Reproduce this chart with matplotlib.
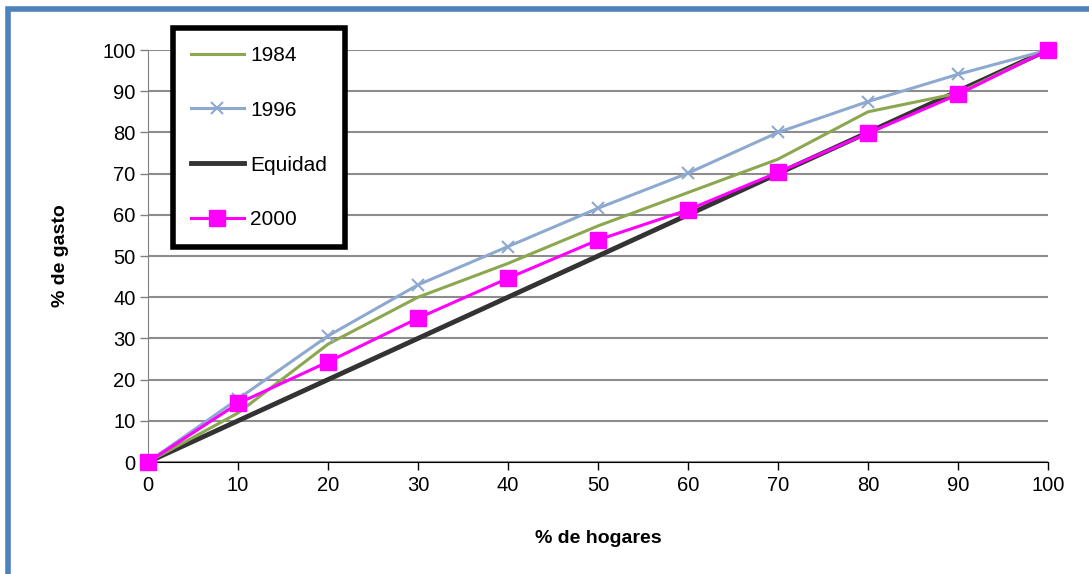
import matplotlib
matplotlib.use("Agg")
import matplotlib.pyplot as plt
from matplotlib.patches import Rectangle

plt.rcParams["font.family"] = ["Liberation Sans", "DejaVu Sans"]

# Curvas de concentración del gasto por deciles de hogares
hogares = [0, 10, 20, 30, 40, 50, 60, 70, 80, 90, 100]
gasto_1984 = [0, 11.9, 28.6, 40.0, 48.2, 57.3, 65.4, 73.5, 85.0, 89.5, 100]
gasto_1996 = [0, 15.3, 30.6, 43.0, 52.3, 61.6, 70.1, 80.0, 87.5, 94.1, 100]
equidad = [0, 10, 20, 30, 40, 50, 60, 70, 80, 90, 100]
gasto_2000 = [0, 14.2, 24.3, 34.9, 44.6, 53.9, 61.2, 70.3, 79.8, 89.2, 100]

ticks = list(range(0, 101, 10))

fig = plt.figure(figsize=(10.89, 5.74), dpi=100)
ax = fig.add_axes([148 / 1089, 1 - 462 / 574, 900 / 1089, 412 / 574])

ax.plot(hogares, gasto_1984, color="#8BA750", lw=2.2, label="1984", zorder=3)
ax.plot(hogares, gasto_1996, color="#8EA9D0", lw=2.2, marker="x", ms=9,
        mew=1.5, label="1996", zorder=3)
ax.plot(hogares, equidad, color="#333333", lw=3.5, label="Equidad", zorder=2)
ax.plot(hogares, gasto_2000, color="#FF00FF", lw=2.2, marker="s", ms=11,
        label="2000", zorder=4, clip_on=False)

ax.set_xlim(0, 100)
ax.set_ylim(0, 100)
ax.set_xticks(ticks)
ax.set_yticks(ticks)
ax.tick_params(labelsize=14.5, length=6, width=1)
ax.tick_params(axis="x", pad=4)
ax.tick_params(axis="y", pad=3, colors="#808080", labelcolor="black")
ax.yaxis.grid(True, color="#8c8c8c", lw=1.5)
ax.set_axisbelow(True)

for side in ("top", "right"):
    ax.spines[side].set_visible(False)
ax.spines["left"].set_color("#808080")
ax.spines["bottom"].set_color("black")

ax.set_xlabel("% de hogares", fontsize=14, fontweight="bold", labelpad=25)
ax.set_ylabel("% de gasto", fontsize=14, fontweight="bold", labelpad=24)

leg = ax.legend(loc="upper left", bbox_to_anchor=(25 / 900, 1.053), fontsize=15,
                handlelength=2.55, handletextpad=0.3, labelspacing=1.72,
                borderpad=0.85, borderaxespad=0, fancybox=False, framealpha=1)
leg.get_frame().set_edgecolor("black")
leg.get_frame().set_linewidth(4)

# marco azul del gráfico
fig.patches.append(Rectangle((7.5 / 1089, -0.1), 1.1, 1 - 8.5 / 574 + 0.1,
                             transform=fig.transFigure, fill=False,
                             edgecolor="#4F81BD", lw=4))

fig.savefig("out.png", dpi=100)
